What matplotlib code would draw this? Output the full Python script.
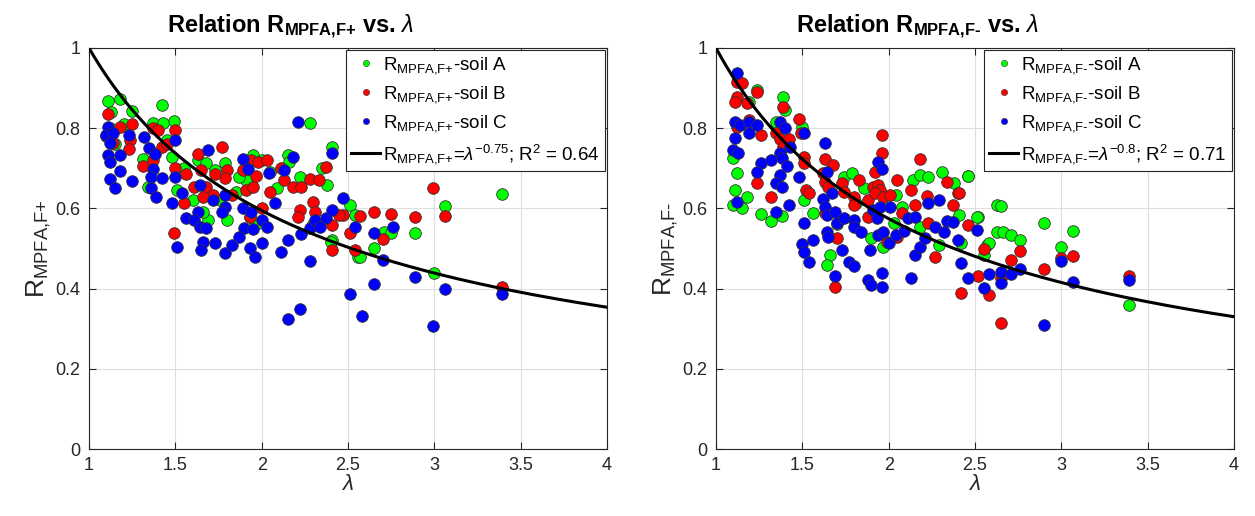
import numpy as np
import matplotlib
matplotlib.use("Agg")
import matplotlib.pyplot as plt
from matplotlib.lines import Line2D

plt.rcParams['font.family'] = ['Liberation Sans', 'DejaVu Sans']
plt.rcParams['mathtext.fontset'] = 'custom'
plt.rcParams['mathtext.rm'] = 'Liberation Sans'
plt.rcParams['mathtext.it'] = 'Liberation Sans:italic'
plt.rcParams['mathtext.bf'] = 'Liberation Sans:bold'

# ---------------- data: left panel (R_MPFA,F+) ----------------
fp_A_x = [1.11, 1.18, 1.25, 1.42, 1.49, 1.37, 1.43, 1.31, 1.48, 1.34, 1.51, 1.63, 1.68, 1.79, 1.73,
          1.80, 1.69, 1.95, 1.91, 1.87, 2.15, 2.16, 2.22, 2.09, 2.28, 2.41, 2.38, 2.51, 2.54, 2.41,
          2.56, 1.93, 2.40, 2.71, 2.75, 2.65, 2.57, 2.89, 3.00, 3.06, 3.39, 1.13, 1.12, 1.15, 1.20,
          1.55, 1.60, 1.85, 2.00, 2.05, 2.35, 1.97, 1.76, 2.30, 1.45, 1.66]
fp_A_y = [0.869, 0.873, 0.843, 0.859, 0.819, 0.814, 0.813, 0.723, 0.728, 0.654, 0.646, 0.720, 0.713, 0.713, 0.696,
          0.571, 0.571, 0.733, 0.671, 0.678, 0.733, 0.716, 0.678, 0.651, 0.814, 0.754, 0.658, 0.608, 0.583, 0.521,
          0.479, 0.578, 0.516, 0.541, 0.538, 0.501, 0.479, 0.539, 0.439, 0.606, 0.636, 0.840, 0.800, 0.760, 0.810,
          0.700, 0.620, 0.640, 0.720, 0.690, 0.700, 0.560, 0.620, 0.560, 0.770, 0.590]

fp_B_x = [1.11, 1.18, 1.25, 1.24, 1.23, 1.14, 1.37, 1.40, 1.50, 1.42, 1.31, 1.37, 1.50, 1.56, 1.49,
          1.55, 1.63, 1.77, 1.80, 1.79, 1.73, 1.65, 1.61, 1.68, 1.72, 1.66, 1.83, 1.89, 1.91, 1.94,
          1.98, 2.03, 1.95, 2.00, 1.93, 2.11, 2.13, 2.18, 2.23, 2.28, 2.33, 2.37, 2.22, 2.21, 2.30,
          2.31, 2.41, 2.47, 2.51, 2.41, 2.99, 2.45, 2.57, 2.65, 2.75, 2.89, 3.06, 2.70, 2.54, 3.39,
          1.10, 1.45, 1.97, 2.05]
fp_B_y = [0.835, 0.803, 0.810, 0.770, 0.748, 0.763, 0.800, 0.795, 0.795, 0.753, 0.706, 0.720, 0.700, 0.686, 0.538,
          0.613, 0.735, 0.753, 0.696, 0.676, 0.686, 0.696, 0.654, 0.654, 0.634, 0.629, 0.634, 0.696, 0.646, 0.720,
          0.716, 0.720, 0.654, 0.601, 0.578, 0.700, 0.671, 0.654, 0.654, 0.673, 0.671, 0.703, 0.596, 0.578, 0.616,
          0.591, 0.559, 0.583, 0.538, 0.496, 0.651, 0.583, 0.581, 0.591, 0.586, 0.578, 0.581, 0.524, 0.496, 0.404,
          0.780, 0.760, 0.680, 0.640]

fp_C_x = [1.11, 1.10, 1.14, 1.12, 1.11, 1.12, 1.18, 1.12, 1.15, 1.18, 1.25, 1.23, 1.32, 1.35, 1.38,
          1.37, 1.36, 1.42, 1.36, 1.39, 1.50, 1.50, 1.48, 1.54, 1.56, 1.51, 1.69, 1.64, 1.63, 1.61,
          1.64, 1.68, 1.66, 1.65, 1.73, 1.72, 1.79, 1.79, 1.77, 1.79, 1.83, 1.89, 1.92, 1.89, 1.94,
          1.90, 1.95, 1.87, 1.93, 1.96, 2.00, 2.00, 2.03, 2.04, 2.08, 2.11, 2.13, 2.18, 2.15, 2.23,
          2.28, 2.21, 2.28, 2.31, 2.37, 2.34, 2.41, 2.41, 2.47, 2.54, 2.51, 2.22, 2.15, 2.58, 2.65,
          2.65, 2.76, 2.70, 2.89, 3.06, 3.39, 2.99]
fp_C_y = [0.803, 0.783, 0.788, 0.763, 0.733, 0.716, 0.733, 0.673, 0.651, 0.693, 0.668, 0.783, 0.778, 0.751, 0.736,
          0.698, 0.678, 0.676, 0.651, 0.628, 0.771, 0.678, 0.613, 0.638, 0.576, 0.504, 0.746, 0.658, 0.591, 0.571,
          0.554, 0.551, 0.516, 0.496, 0.514, 0.621, 0.634, 0.604, 0.591, 0.489, 0.509, 0.723, 0.698, 0.601, 0.591,
          0.551, 0.549, 0.529, 0.501, 0.479, 0.514, 0.571, 0.554, 0.688, 0.613, 0.491, 0.696, 0.728, 0.521, 0.536,
          0.469, 0.816, 0.551, 0.571, 0.576, 0.554, 0.596, 0.738, 0.626, 0.554, 0.387, 0.349, 0.324, 0.332, 0.411,
          0.539, 0.554, 0.471, 0.429, 0.399, 0.387, 0.307]

# ---------------- data: right panel (R_MPFA,F-) ----------------
fm_A_x = [1.24, 1.39, 1.40, 1.19, 1.10, 1.12, 1.11, 1.10, 1.15, 1.18, 1.26, 1.32, 1.38, 1.35, 1.50,
          1.56, 1.51, 1.66, 1.64, 1.74, 1.79, 1.81, 1.90, 1.97, 2.04, 2.08, 2.14, 2.18, 2.23, 2.31,
          2.38, 2.46, 2.41, 2.52, 2.57, 2.63, 2.63, 2.18, 2.29, 2.03, 2.46, 2.51, 2.42, 2.55, 2.58,
          2.65, 2.66, 2.71, 2.76, 2.90, 3.00, 3.07, 3.39, 1.70, 1.86]
fm_A_y = [0.895, 0.878, 0.845, 0.865, 0.726, 0.688, 0.646, 0.608, 0.601, 0.629, 0.586, 0.569, 0.581, 0.815, 0.803,
          0.589, 0.621, 0.484, 0.459, 0.678, 0.688, 0.613, 0.526, 0.504, 0.634, 0.603, 0.671, 0.683, 0.678, 0.691,
          0.663, 0.681, 0.583, 0.579, 0.509, 0.608, 0.541, 0.554, 0.509, 0.564, 0.681, 0.579, 0.514, 0.484, 0.514,
          0.606, 0.541, 0.534, 0.521, 0.564, 0.504, 0.544, 0.359, 0.560, 0.650]

fm_B_x = [1.12, 1.15, 1.12, 1.11, 1.18, 1.24, 1.12, 1.19, 1.26, 1.24, 1.32, 1.39, 1.35, 1.37, 1.39,
          1.42, 1.48, 1.49, 1.51, 1.51, 1.52, 1.54, 1.63, 1.68, 1.62, 1.63, 1.65, 1.63, 1.70, 1.69,
          1.73, 1.74, 1.80, 1.80, 1.83, 1.88, 1.88, 1.92, 1.91, 1.94, 1.96, 1.96, 1.95, 1.92, 1.97,
          2.01, 2.05, 1.99, 2.05, 2.08, 2.13, 2.15, 2.18, 2.22, 2.23, 2.27, 2.34, 2.37, 2.40, 2.46,
          2.42, 2.52, 2.55, 2.58, 2.41, 2.65, 2.71, 2.76, 2.65, 2.90, 3.00, 3.07, 3.39]
fm_B_y = [0.915, 0.913, 0.878, 0.865, 0.863, 0.891, 0.803, 0.820, 0.783, 0.663, 0.629, 0.853, 0.788, 0.773, 0.753,
          0.773, 0.823, 0.788, 0.728, 0.713, 0.646, 0.638, 0.723, 0.708, 0.688, 0.666, 0.654, 0.589, 0.526, 0.404,
          0.663, 0.641, 0.629, 0.608, 0.671, 0.621, 0.579, 0.691, 0.654, 0.658, 0.783, 0.738, 0.646, 0.638, 0.629,
          0.634, 0.671, 0.516, 0.529, 0.589, 0.646, 0.608, 0.723, 0.631, 0.564, 0.479, 0.666, 0.608, 0.638, 0.559,
          0.389, 0.431, 0.499, 0.384, 0.638, 0.314, 0.471, 0.494, 0.426, 0.449, 0.476, 0.481, 0.431]

fm_C_x = [1.12, 1.11, 1.14, 1.19, 1.19, 1.24, 1.11, 1.10, 1.13, 1.12, 1.26, 1.24, 1.32, 1.35, 1.37,
          1.40, 1.37, 1.38, 1.41, 1.37, 1.35, 1.38, 1.43, 1.42, 1.48, 1.51, 1.51, 1.50, 1.51, 1.54,
          1.56, 1.63, 1.64, 1.62, 1.67, 1.63, 1.64, 1.64, 1.65, 1.69, 1.70, 1.74, 1.73, 1.69, 1.77,
          1.80, 1.80, 1.80, 1.84, 1.89, 1.88, 1.90, 1.96, 1.96, 1.94, 1.96, 1.91, 1.95, 1.93, 1.94,
          1.97, 2.00, 2.01, 2.04, 2.09, 2.11, 2.15, 2.13, 2.15, 2.18, 2.21, 2.23, 2.29, 2.27, 2.32,
          2.34, 2.37, 2.40, 2.42, 2.46, 2.51, 2.55, 2.58, 2.65, 2.65, 2.71, 2.76, 2.90, 3.00, 3.07,
          3.39]
fm_C_y = [0.938, 0.815, 0.808, 0.815, 0.788, 0.808, 0.776, 0.746, 0.738, 0.616, 0.713, 0.691, 0.721, 0.591, 0.815,
          0.801, 0.738, 0.726, 0.706, 0.683, 0.663, 0.654, 0.753, 0.608, 0.678, 0.788, 0.564, 0.511, 0.491, 0.466,
          0.521, 0.763, 0.691, 0.623, 0.638, 0.603, 0.583, 0.541, 0.529, 0.591, 0.564, 0.576, 0.496, 0.431, 0.466,
          0.456, 0.571, 0.554, 0.541, 0.496, 0.421, 0.409, 0.404, 0.439, 0.716, 0.698, 0.596, 0.603, 0.576, 0.534,
          0.541, 0.514, 0.603, 0.534, 0.544, 0.576, 0.579, 0.426, 0.484, 0.504, 0.526, 0.614, 0.621, 0.554, 0.541,
          0.569, 0.566, 0.521, 0.464, 0.426, 0.546, 0.401, 0.436, 0.414, 0.441, 0.436, 0.449, 0.309, 0.469, 0.416,
          0.421]

exp_plus = -0.75
exp_minus = -0.8
r2_plus = 0.64
r2_minus = 0.71

x_ticks = [1, 1.5, 2, 2.5, 3, 3.5, 4]
x_ticklabels = ['1', '1.5', '2', '2.5', '3', '3.5', '4']
y_ticks = [0, 0.2, 0.4, 0.6, 0.8, 1]
y_ticklabels = ['0', '0.2', '0.4', '0.6', '0.8', '1']

green = (0.0, 1.0, 0.0)
red = (1.0, 0.0, 0.0)
blue = (0.0, 0.0, 1.0)
axcol = (0.15, 0.15, 0.15)

fig = plt.figure(figsize=(12.55, 5.16), dpi=100)
ax1 = fig.add_axes([89 / 1255, 67 / 516, 518 / 1255, 401 / 516])
ax2 = fig.add_axes([716 / 1255, 67 / 516, 518 / 1255, 401 / 516])


def draw(ax, sub, A, B, C, expo, r2):
    s = 70
    for (xs, ys), col in zip([A, B, C], [green, red, blue]):
        ax.scatter(xs, ys, s=s, c=[col], edgecolors=(0.2, 0.2, 0.2), linewidths=0.6, zorder=3)
    xx = np.linspace(1, 4, 300)
    ax.plot(xx, xx ** expo, color='k', lw=2.2, zorder=4)
    ax.set_xlim(1, 4)
    ax.set_ylim(0, 1)
    ax.set_xticks(x_ticks)
    ax.set_xticklabels(x_ticklabels)
    ax.set_yticks(y_ticks)
    ax.set_yticklabels(y_ticklabels)
    ax.tick_params(direction='in', length=5, width=0.8, colors=axcol, labelsize=13,
                   top=True, right=True, pad=6, labelcolor=(0.15, 0.15, 0.15))
    ax.grid(True, color=(0.87, 0.87, 0.87), lw=0.8, zorder=0)
    ax.set_axisbelow(True)
    for sp in ax.spines.values():
        sp.set_color(axcol)
        sp.set_linewidth(0.8)
    ax.set_xlabel('λ', fontsize=16, color=axcol, fontstyle='italic', labelpad=0)
    ax.set_ylabel(r'R$_{\mathrm{MPFA{,}%s}}$' % sub, fontsize=19, color=axcol, labelpad=2)
    ax.set_title(r'Relation R$_{\mathbf{MPFA{,}%s}}$ vs. $\lambda$' % sub, fontsize=17,
                 fontweight='bold', pad=11, x=0.39)
    handles = [
        Line2D([], [], ls='none', marker='o', ms=4.5, mfc=green, mec=(0.2, 0.2, 0.2), mew=0.4),
        Line2D([], [], ls='none', marker='o', ms=4.5, mfc=red, mec=(0.2, 0.2, 0.2), mew=0.4),
        Line2D([], [], ls='none', marker='o', ms=4.5, mfc=blue, mec=(0.2, 0.2, 0.2), mew=0.4),
        Line2D([], [], color='k', lw=2.2),
    ]
    labels = [
        r'R$_{\mathrm{MPFA{,}%s}}$-soil A' % sub,
        r'R$_{\mathrm{MPFA{,}%s}}$-soil B' % sub,
        r'R$_{\mathrm{MPFA{,}%s}}$-soil C' % sub,
        r'R$_{\mathrm{MPFA{,}%s}}$=$\lambda^{%s}$; R$^{2}$ = %.2f' % (sub, str(expo), r2),
    ]
    leg = ax.legend(handles, labels, loc='upper right', bbox_to_anchor=(1.0, 1.0),
                    borderaxespad=0.1, fontsize=13.5, frameon=True, fancybox=False,
                    edgecolor=axcol, framealpha=1, handlelength=1.55, handletextpad=0.15,
                    labelspacing=0.42, borderpad=0.3)
    leg.get_frame().set_linewidth(0.8)
    leg.set_zorder(10)


sub_plus = 'F{+}'
sub_minus = 'F\u2010'
draw(ax1, sub_plus, (fp_A_x, fp_A_y), (fp_B_x, fp_B_y), (fp_C_x, fp_C_y), exp_plus, r2_plus)
draw(ax2, sub_minus, (fm_A_x, fm_A_y), (fm_B_x, fm_B_y), (fm_C_x, fm_C_y), exp_minus, r2_minus)

fig.savefig('out.png', dpi=100)
